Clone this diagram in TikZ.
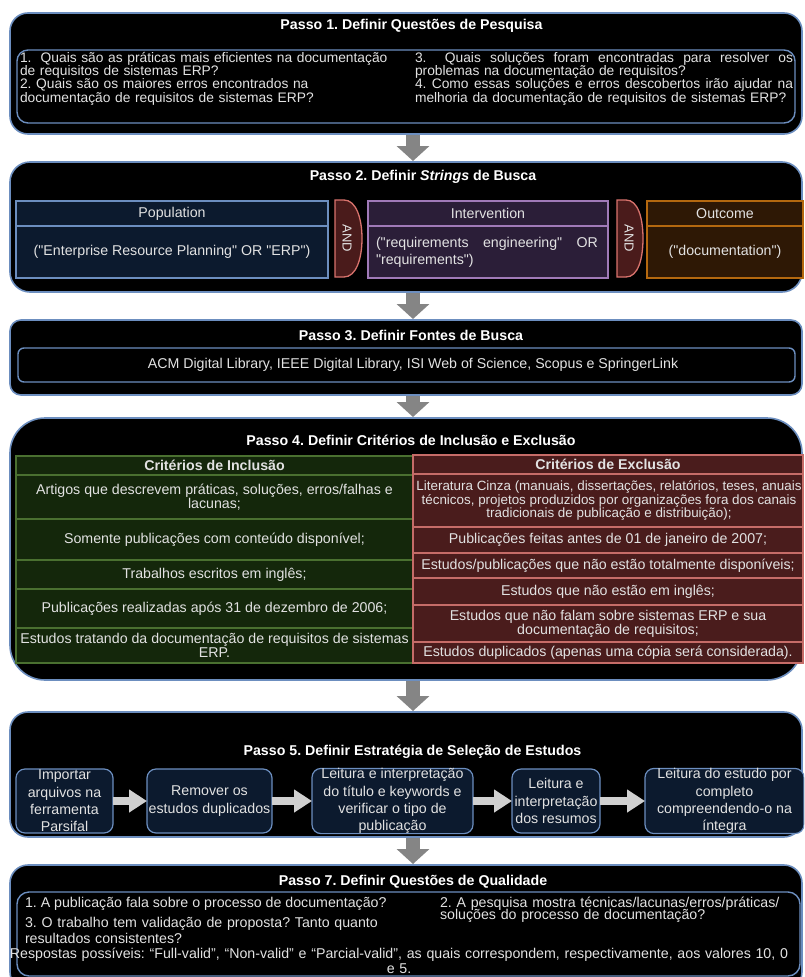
\documentclass[tikz,border=0pt]{standalone}
\usepackage{fontspec}
\setmainfont{Liberation Sans}[Ligatures=TeXOff]
\usetikzlibrary{arrows.meta,calc}
\definecolor{bordblue}{HTML}{6C8EBF}
\definecolor{txtgray}{HTML}{E2E2E2}
\definecolor{popfill}{HTML}{0C1A2E}
\definecolor{intfill}{HTML}{2B1E38}
\definecolor{intline}{HTML}{A07AB8}
\definecolor{outfill}{HTML}{2E1805}
\definecolor{outline}{HTML}{B4680F}
\definecolor{andfill}{HTML}{4A1B1B}
\definecolor{andline}{HTML}{D9736D}
\definecolor{incfill}{HTML}{14270B}
\definecolor{incline}{HTML}{4A7030}
\definecolor{excfill}{HTML}{4A1C1C}
\definecolor{excline}{HTML}{C66C68}
\definecolor{procfill}{HTML}{0C1A2E}
\definecolor{arrgray}{HTML}{858585}
\definecolor{procarr}{HTML}{D0D0D0}
\newcommand\tightfont{\fontsize{13.8}{13.4}\selectfont\lineskiplimit=-50pt\relax}
\newcommand\srcfont{\fontsize{14.2}{16}\selectfont\lineskiplimit=-50pt\relax}
\newcommand\cellfont{\fontsize{14.2}{13.9}\selectfont\lineskiplimit=-50pt\relax}
\newcommand\grayfont{\fontsize{13.4}{13.9}\selectfont\lineskiplimit=-50pt\relax}
\newcommand\normfont{\fontsize{14.2}{16.8}\selectfont\lineskiplimit=-50pt\relax}
\newcommand\procfont{\fontsize{14.2}{17.3}\selectfont\lineskiplimit=-50pt\relax}
\newcommand\qqonefont{\fontsize{14.2}{16}\selectfont\lineskiplimit=-50pt\relax}
\newcommand\qqthreefont{\fontsize{14.2}{16.3}\selectfont\lineskiplimit=-50pt\relax}
\newcommand\qqtwofont{\fontsize{14.2}{12.3}\selectfont\lineskiplimit=-50pt\relax}
\newcommand\respfont{\fontsize{14.2}{15}\selectfont\lineskiplimit=-50pt\relax}
\newcommand\spreadline[2]{\makebox[#1][s]{\spaceskip=0pt\xspaceskip=0pt\relax #2}}
\begin{document}
\frenchspacing
\begin{tikzpicture}[x=1pt,y=-1pt,
  every node/.style={inner sep=0pt, outer sep=0pt},
  outerbox/.style={draw=bordblue, line width=1.6pt, fill=black},
  innerbox/.style={draw=bordblue, line width=1.4pt, fill=black},
  ttl/.style={font=\fontsize{14.2}{16}\selectfont\bfseries, text=white},
  txt/.style={font=\tightfont, text=txtgray},
  popbox/.style={draw=bordblue, fill=popfill, line width=1.3pt, font=\normfont, text=txtgray},
  intbox/.style={draw=intline, fill=intfill, line width=1.3pt, font=\normfont, text=txtgray},
  outbox/.style={draw=outline, fill=outfill, line width=1.3pt, font=\normfont, text=txtgray},
  andshape/.style={draw=andline, fill=andfill, line width=1.3pt},
  andtxt/.style={font=\fontsize{13}{15}\selectfont, text=txtgray},
  inccell/.style={draw=incline, fill=incfill, line width=1.1pt, font=\cellfont, text=txtgray, align=center, minimum width=397pt},
  exccell/.style={draw=excline, fill=excfill, line width=1.1pt, font=\cellfont, text=txtgray, align=center, minimum width=390pt},
  procbox/.style={draw=bordblue, fill=procfill, line width=1.2pt, rounded corners=9pt, font=\procfont, text=txtgray, align=center, minimum height=64pt},
  steparrow/.style={draw=arrgray, line width=14pt, shorten <=1pt, shorten >=1pt, -{Triangle[width=32pt,length=15pt]}},
  procarrow/.style={draw=procarr, line width=8pt, -{Triangle[width=22pt,length=18pt]}}
]
\useasboundingbox (0,0) rectangle (804,977);
\clip (0,0) rectangle (804,977);
\fill[white] (0,0) rectangle (804,977);

% ---------- Step 1
\node[outerbox, rounded corners=18pt, minimum width=792pt, minimum height=121pt] (s1) at (406,73.5) {};
\node[ttl] (t1) at (411.5,26) {Passo 1. Definir Questões de Pesquisa};
\node[innerbox, rounded corners=11pt, minimum width=778pt, minimum height=73pt] (i1) at (406,86.5) {};
\node[txt, anchor=base west, text width=392pt, align=left] (q12) at (20,62)
  {1.\ \ Quais são as práticas mais eficientes na documentação\\de requisitos de sistemas ERP?\\2. Quais são os maiores erros encontrados na\\documentação de requisitos de sistemas ERP?};
\node[txt, anchor=base west, text width=386pt, align=left] (q34) at (415,62)
  {\spreadline{378pt}{3.\ \ Quais soluções foram encontradas para resolver os}\\problemas na documentação de requisitos?\\\spreadline{378pt}{4. Como essas soluções e erros descobertos irão ajudar na}\\melhoria da documentação de requisitos de sistemas ERP?};

% ---------- Step 2
\node[outerbox, rounded corners=20pt, minimum width=792pt, minimum height=130pt] (s2) at (406,227) {};
\node[ttl] (t2) at (423,177) {Passo 2. Definir \textit{Strings} de Busca};
\node[popbox, minimum width=312pt, minimum height=25pt] (ph) at (172,213.5) {Population};
\node[popbox, minimum width=312pt, minimum height=52pt] (pb) at (172,252) {("Enterprise Resource Planning" OR "ERP")};
\draw[andshape] (335,200) -- (344,200) .. controls (356,200) and (362,218) .. (362,238.5) .. controls (362,259) and (356,277) .. (344,277) -- (335,277) -- cycle;
\node[andtxt, rotate=-90] (and1) at (347,238.5) {AND};
\node[intbox, minimum width=240pt, minimum height=25pt] (ih) at (488,213.5) {Intervention};
\node[intbox, minimum width=240pt, minimum height=52pt, text width=224pt, align=left] (ib) at (488,252)
  {\spreadline{222pt}{("requirements engineering" OR}\\"requirements")};
\draw[andshape] (617,200) -- (626,200) .. controls (638,200) and (643,218) .. (643,238.5) .. controls (643,259) and (638,277) .. (626,277) -- (617,277) -- cycle;
\node[andtxt, rotate=-90] (and2) at (629,238.5) {AND};
\node[outbox, minimum width=156pt, minimum height=25pt] (oh) at (725,213.5) {Outcome};
\node[outbox, minimum width=156pt, minimum height=52pt] (ob) at (725,252) {("documentation")};

% ---------- Step 3
\node[outerbox, rounded corners=11pt, minimum width=792pt, minimum height=75pt] (s3) at (406,357.5) {};
\node[ttl] (t3) at (411,335) {Passo 3. Definir Fontes de Busca};
\node[innerbox, rounded corners=6pt, minimum width=777pt, minimum height=34pt] (i3) at (406.5,365) {};
\node[font=\srcfont, text=txtgray] (src) at (413,365) {ACM Digital Library, IEEE Digital Library, ISI Web of Science, Scopus e SpringerLink};

% ---------- Step 4
\node[outerbox, rounded corners=35pt, minimum width=792pt, minimum height=262pt] (s4) at (406,549) {};
\node[ttl] (t4) at (411,440) {Passo 4. Definir Critérios de Inclusão e Exclusão};
\node[inccell, minimum height=19pt, font=\cellfont\bfseries] (inch) at (214.5,465.5) {Critérios de Inclusão};
\node[inccell, minimum height=44pt] (inc1) at (214.5,497) {Artigos que descrevem práticas, soluções, erros/falhas e\\lacunas;};
\node[inccell, minimum height=41pt] (inc2) at (214.5,539.5) {Somente publicações com conteúdo disponível;};
\node[inccell, minimum height=29pt] (inc3) at (214.5,574.5) {Trabalhos escritos em inglês;};
\node[inccell, minimum height=39pt] (inc4) at (214.5,608.5) {Publicações realizadas após 31 de dezembro de 2006;};
\node[inccell, minimum height=35pt] (inc5) at (214.5,645.5) {Estudos tratando da documentação de requisitos de sistemas\\ERP.};
\node[exccell, minimum height=19pt, font=\cellfont\bfseries] (exch) at (608,464.5) {Critérios de Exclusão};
\node[exccell, minimum height=53pt] (exc1) at (608,500.5) {};
\node[font=\grayfont, text=txtgray, align=center] (exc1t) at (609,500.5) {Literatura Cinza (manuais, dissertações, relatórios, teses, anuais\\técnicos, projetos produzidos por organizações fora dos canais\\tradicionais de publicação e distribuição);};
\node[exccell, minimum height=26pt] (exc2) at (608,540) {Publicações feitas antes de 01 de janeiro de 2007;};
\node[exccell, minimum height=25pt] (exc3) at (608,565.5) {Estudos/publicações que não estão totalmente disponíveis;};
\node[exccell, minimum height=27pt] (exc4) at (608,591.5) {Estudos que não estão em inglês;};
\node[exccell, minimum height=37pt] (exc5) at (608,623.5) {Estudos que não falam sobre sistemas ERP e sua\\documentação de requisitos;};
\node[exccell, minimum height=21pt] (exc6) at (608,652.5) {Estudos duplicados (apenas uma cópia será considerada).};

% ---------- Step 5
\node[outerbox, rounded corners=18pt, minimum width=792pt, minimum height=125pt] (s5) at (406,774.5) {};
\node[ttl] (t5) at (412.5,752) {Passo 5. Definir Estratégia de Seleção de Estudos};
\node[procbox, minimum width=97pt] (b1) at (64.5,801) {Importar\\arquivos na\\ferramenta\\Parsifal};
\node[procbox, minimum width=125pt] (b2) at (209.5,801) {Remover os\\estudos duplicados};
\node[procbox, minimum width=161pt] (b3) at (392.5,801) {Leitura e interpretação\\do título e keywords e\\verificar o tipo de\\publicação};
\node[procbox, minimum width=88pt] (b4) at (556,801) {Leitura e\\interpretação\\dos resumos};
\node[procbox, minimum width=159pt] (b5) at (724.5,801) {Leitura do estudo por\\completo\\compreendendo-o na\\íntegra};
\draw[procarrow] (b1.east) -- (b2.west);
\draw[procarrow] (b2.east) -- (b3.west);
\draw[procarrow] (b3.east) -- (b4.west);
\draw[procarrow] (b4.east) -- (b5.west);

% ---------- Step 7
\node[outerbox, rounded corners=18pt, minimum width=792pt, minimum height=125pt] (s7) at (406,927.5) {};
\node[ttl] (t7) at (413,882) {Passo 7. Definir Questões de Qualidade};
\node[innerbox, rounded corners=12pt, minimum width=783pt, minimum height=84pt] (i7) at (408.5,934) {};
\node[font=\qqonefont, text=txtgray, anchor=base west] (qq1) at (25,907.5) {1. A publicação fala sobre o processo de documentação?};
\node[text=txtgray, anchor=base west, text width=390pt, align=left, font=\qqthreefont] (qq3) at (25,927.5) {3. O trabalho tem validação de proposta? Tanto quanto\\resultados consistentes?};
\node[text=txtgray, anchor=base west, text width=360pt, align=left, font=\qqtwofont] (qq2) at (440,907.5) {2. A pesquisa mostra técnicas/lacunas/erros/práticas/\\soluções do processo de documentação?};
\node[text=txtgray, anchor=base, text width=804pt, align=center, font=\respfont] (resp) at (399,958) {Respostas possíveis: “Full-valid”, “Non-valid” e “Parcial-valid”, as quais correspondem, respectivamente, aos valores 10, 0\\e 5.};

% ---------- step arrows
\draw[steparrow] ($(s1.south)+(7,0)$) -- ($(s1.south |- s2.north)+(7,0)$);
\draw[steparrow] ($(s2.south)+(7,0)$) -- ($(s2.south |- s3.north)+(7,0)$);
\draw[steparrow] ($(s3.south)+(7,0)$) -- ($(s3.south |- s4.north)+(7,0)$);
\draw[steparrow] ($(s4.south)+(7,0)$) -- ($(s4.south |- s5.north)+(7,0)$);
\draw[steparrow] ($(s5.south)+(7,0)$) -- ($(s5.south |- s7.north)+(7,0)$);
\end{tikzpicture}
\end{document}
